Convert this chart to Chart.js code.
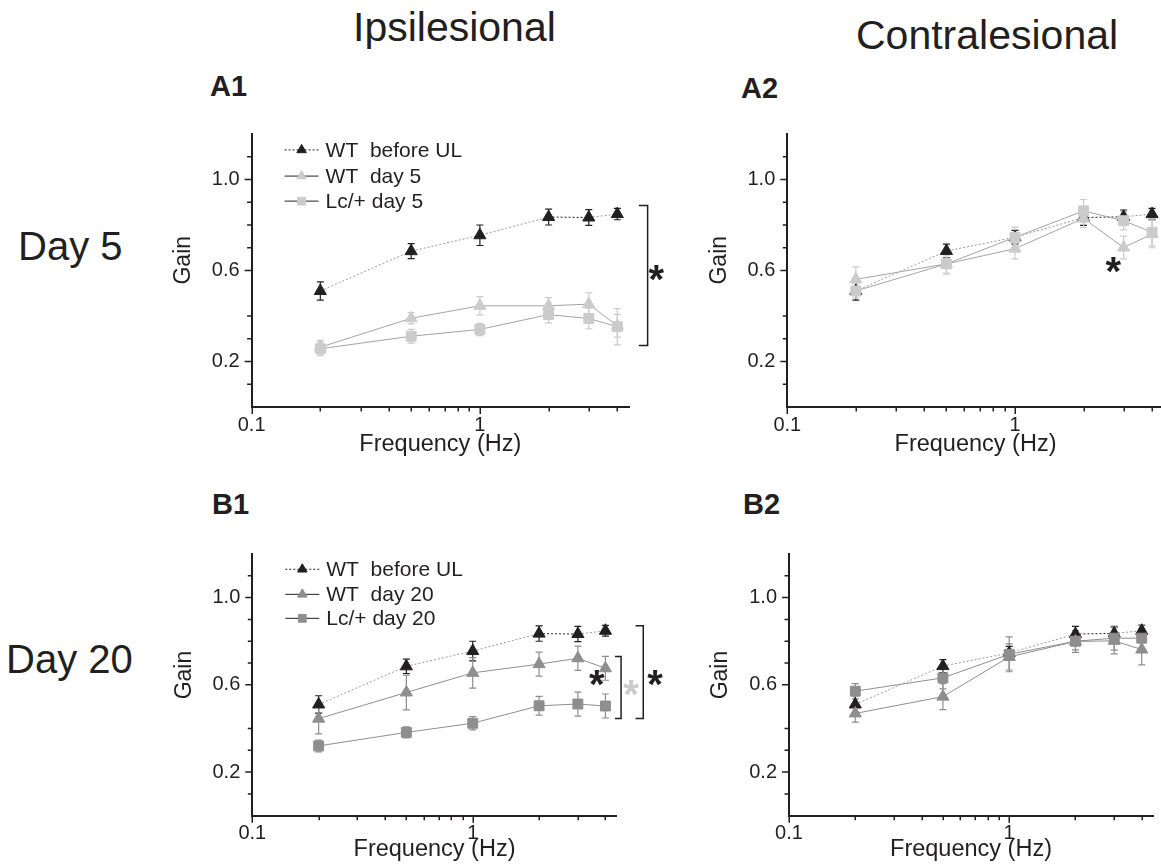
<!DOCTYPE html>
<html>
<head>
<meta charset="utf-8">
<script src="https://cdn.jsdelivr.net/npm/chart.js@4.4.1/dist/chart.umd.min.js"></script>
<style>
html, body { margin: 0; padding: 0; background: #fff; overflow: hidden; width: 1161px; height: 868px; }
body { position: relative; font-family: 'Liberation Sans', Arial, sans-serif; color: #231f20; }
.t { position: absolute; white-space: pre; line-height: 1; }
.b { font-weight: bold; font-size: 29px; }
.panel { position: absolute; }
</style>
</head>
<body>
<div class="t" style="left:353px;top:7px;font-size:41px">Ipsilesional</div>
<div class="t" style="left:856px;top:15px;font-size:41px">Contralesional</div>
<div class="t b" style="left:210px;top:72px">A1</div>
<div class="t b" style="left:741px;top:74px">A2</div>
<div class="t b" style="left:212px;top:490px">B1</div>
<div class="t b" style="left:743px;top:490px">B2</div>
<div class="t" style="left:18px;top:226px;font-size:40px">Day 5</div>
<div class="t" style="left:6px;top:639px;font-size:40px">Day 20</div>

<div class="panel" style="left:150px;top:110px;width:530px;height:360px"><canvas id="cA1"></canvas></div>
<div class="panel" style="left:690px;top:110px;width:500px;height:360px"><canvas id="cA2"></canvas></div>
<div class="panel" style="left:150px;top:530px;width:530px;height:338px"><canvas id="cB1"></canvas></div>
<div class="panel" style="left:690px;top:530px;width:471px;height:338px"><canvas id="cB2"></canvas></div>

<script>
const FONT = "'Liberation Sans', Arial, sans-serif";
const BLACK = '#231f20';
const LIGHT = '#cbcbcb';
const MID = '#8e8e8e';
const LINE_LIGHT = '#a4a4a4';
const DOT = '#9a9a9a';

// frequencies (Hz)
const freqs = [0.2, 0.5, 1, 2, 3, 4];

// ipsilesional
const wtBeforeIpsi = [0.51, 0.685, 0.755, 0.835, 0.833, 0.848];
const wtBeforeIpsiErr = [0.04, 0.033, 0.045, 0.035, 0.035, 0.025];
const wtDay5Ipsi = [0.263, 0.39, 0.445, 0.445, 0.452, 0.357];
const wtDay5IpsiErr = [0.03, 0.025, 0.04, 0.036, 0.05, 0.05];
const lcDay5Ipsi = [0.256, 0.311, 0.341, 0.406, 0.389, 0.353];
const lcDay5IpsiErr = [0.03, 0.03, 0.027, 0.036, 0.045, 0.08];
const wtDay20Ipsi = [0.445, 0.565, 0.655, 0.695, 0.722, 0.676];
const wtDay20IpsiErr = [0.07, 0.08, 0.07, 0.055, 0.056, 0.055];
const lcDay20Ipsi = [0.32, 0.382, 0.424, 0.504, 0.512, 0.503];
const lcDay20IpsiErr = [0.027, 0.025, 0.03, 0.043, 0.055, 0.055];

// contralesional
const wtBeforeContra = [0.51, 0.686, 0.746, 0.833, 0.836, 0.848];
const wtBeforeContraErr = [0.04, 0.03, 0.03, 0.035, 0.03, 0.025];
const wtDay5Contra = [0.561, 0.629, 0.696, 0.829, 0.701, 0.76];
const wtDay5ContraErr = [0.055, 0.04, 0.045, 0.04, 0.05, 0.06];
const lcDay5Contra = [0.51, 0.629, 0.746, 0.862, 0.819, 0.768];
const lcDay5ContraErr = [0.03, 0.045, 0.045, 0.05, 0.04, 0.06];
const wtDay20Contra = [0.469, 0.546, 0.728, 0.799, 0.802, 0.762];
const wtDay20ContraErr = [0.04, 0.06, 0.06, 0.05, 0.06, 0.07];
const lcDay20Contra = [0.571, 0.632, 0.74, 0.8, 0.814, 0.814];
const lcDay20ContraErr = [0.035, 0.05, 0.08, 0.04, 0.055, 0.06];

// axes
const xMinorTicks = [0.1, 0.2, 0.3, 0.4, 0.5, 0.6, 0.7, 0.8, 0.9, 1, 2, 3, 4];
const xLabelValues = [0.1, 1];
const xLabelText = ['0.1', '1'];
const yMinorTicks = [0.1, 0.2, 0.3, 0.4, 0.6, 0.7, 0.8, 0.9, 1.0, 1.1];
const yLabelValues = [0.2, 0.6, 1.0];
const yLabelText = ['0.2', '0.6', '1.0'];
const legendRows = [1.13, 1.015, 0.905];

Chart.defaults.font.family = FONT;
Chart.defaults.color = BLACK;

function series(label, vals, errs, style, color, lineColor, order, dotted) {
  const ds = {
    label: label,
    data: freqs.map((f, i) => ({ x: f, y: vals[i] })),
    err: errs,
    errColor: color,
    borderColor: lineColor,
    borderWidth: 1,
    pointStyle: style,
    pointRadius: style === 'triangle' ? 7 : 7,
    pointBackgroundColor: color,
    pointBorderColor: color,
    pointBorderWidth: 1,
    order: order
  };
  if (dotted) {
    ds.borderDash = [2, 2];
    ds.segment = { borderColor: c => c.p0DataIndex === 3 ? BLACK : DOT };
  }
  return ds;
}

function drawStar(ctx, x, y, color) {
  ctx.save();
  ctx.font = 'bold 40px ' + FONT;
  ctx.fillStyle = color;
  ctx.textAlign = 'center';
  ctx.textBaseline = 'alphabetic';
  const m = ctx.measureText('*');
  ctx.fillText('*', x, y + (m.actualBoundingBoxAscent - m.actualBoundingBoxDescent) / 2);
  ctx.restore();
}

const decor = {
  id: 'decor',
  beforeDatasetsDraw(chart) {
    const ctx = chart.ctx, xs = chart.scales.x, ys = chart.scales.y;
    chart.data.datasets.forEach(ds => {
      ctx.save();
      ctx.strokeStyle = ds.errColor;
      ctx.lineWidth = 1.2;
      ds.data.forEach((p, i) => {
        const px = xs.getPixelForValue(p.x);
        const yT = ys.getPixelForValue(p.y + ds.err[i]);
        const yB = ys.getPixelForValue(p.y - ds.err[i]);
        ctx.beginPath();
        ctx.moveTo(px, yT); ctx.lineTo(px, yB);
        ctx.moveTo(px - 3.5, yT); ctx.lineTo(px + 3.5, yT);
        ctx.moveTo(px - 3.5, yB); ctx.lineTo(px + 3.5, yB);
        ctx.stroke();
      });
      ctx.restore();
    });
  },
  afterDraw(chart, args, o) {
    const ctx = chart.ctx, xs = chart.scales.x, ys = chart.scales.y, a = chart.chartArea;
    ctx.save();
    ctx.strokeStyle = BLACK;
    ctx.lineWidth = 1.5;
    ctx.beginPath();
    xMinorTicks.forEach(v => {
      const px = Math.round(xs.getPixelForValue(v)) + 0.25;
      const len = xLabelValues.includes(v) ? 6 : 3.5;
      ctx.moveTo(px, a.bottom); ctx.lineTo(px, a.bottom + 1 + len);
    });
    yMinorTicks.forEach(v => {
      const py = ys.getPixelForValue(v);
      const len = yLabelValues.includes(v) ? 6 : 3.5;
      ctx.moveTo(a.left, py); ctx.lineTo(a.left - 1 - len, py);
    });
    ctx.stroke();

    // y axis title
    ctx.save();
    ctx.translate(a.left - 68, ys.getPixelForValue(0.645));
    ctx.rotate(-Math.PI / 2);
    ctx.font = '23px ' + FONT;
    ctx.fillStyle = BLACK;
    ctx.textAlign = 'center';
    ctx.textBaseline = 'middle';
    ctx.fillText('Gain', 0, 0);
    ctx.restore();

    // legend
    (o.legend || []).forEach((it, i) => {
      const y = ys.getPixelForValue(legendRows[i]);
      ctx.save();
      ctx.strokeStyle = BLACK;
      ctx.lineWidth = 1;
      if (it.dotted) ctx.setLineDash([2, 2]);
      ctx.beginPath();
      ctx.moveTo(a.left + 33, y); ctx.lineTo(a.left + 67, y);
      ctx.stroke();
      ctx.setLineDash([]);
      ctx.fillStyle = it.color;
      ctx.strokeStyle = it.color;
      Chart.helpers.drawPoint(ctx, { pointStyle: it.style, radius: 5.5, borderWidth: 1, rotation: 0 }, a.left + 50, y);
      ctx.font = '21px ' + FONT;
      ctx.fillStyle = BLACK;
      ctx.textBaseline = 'middle';
      ctx.textAlign = 'left';
      ctx.fillText(it.text, a.left + 74, y + 1);
      ctx.restore();
    });

    // significance brackets
    ctx.lineWidth = 1.5;
    ctx.strokeStyle = BLACK;
    (o.brackets || []).forEach(b => {
      const x = xs.getPixelForValue(b.x), xt = xs.getPixelForValue(b.tick);
      const y0 = ys.getPixelForValue(b.top), y1 = ys.getPixelForValue(b.bottom);
      ctx.beginPath();
      ctx.moveTo(xt, y0); ctx.lineTo(x, y0); ctx.lineTo(x, y1); ctx.lineTo(xt, y1);
      ctx.stroke();
    });
    (o.stars || []).forEach(s => drawStar(ctx, xs.getPixelForValue(s.x), ys.getPixelForValue(s.y), s.color));
    ctx.restore();
  }
};

function makePanel(id, pad, yW, xH, titlePad, datasets, extra) {
  return new Chart(document.getElementById(id), {
    type: 'line',
    data: { datasets: datasets },
    options: {
      responsive: true,
      maintainAspectRatio: false,
      animation: false,
      layout: { padding: pad },
      plugins: { legend: { display: false }, tooltip: { enabled: false }, decor: extra },
      scales: {
        x: {
          type: 'logarithmic', min: 0.1, max: 4.5,
          afterFit: s => { s.height = xH; },
          afterBuildTicks: s => { s.ticks = xLabelValues.map(v => ({ value: v })); },
          grid: { display: false, drawTicks: false },
          border: { display: true, color: BLACK, width: 2 },
          ticks: {
            autoSkip: false, maxRotation: 0, padding: 6, font: { size: 20 }, color: BLACK,
            callback: v => { const i = xLabelValues.indexOf(v); return i >= 0 ? xLabelText[i] : ''; }
          },
          title: { display: true, text: 'Frequency (Hz)', font: { size: 23.5 }, color: BLACK, padding: { top: 0, bottom: titlePad } }
        },
        y: {
          type: 'linear', min: 0, max: 1.2,
          afterFit: s => { s.width = yW; },
          afterBuildTicks: s => { s.ticks = yLabelValues.map(v => ({ value: v })); },
          grid: { display: false, drawTicks: false },
          border: { display: true, color: BLACK, width: 2 },
          ticks: {
            autoSkip: false, padding: 12, font: { size: 20 }, color: BLACK,
            callback: v => { const i = yLabelValues.indexOf(v); return i >= 0 ? yLabelText[i] : ''; }
          }
        }
      }
    },
    plugins: [decor]
  });
}

makePanel('cA1', { top: 20, right: 51, left: 0, bottom: 0 }, 101.6, 63, 10.9, [
  series('WT before UL', wtBeforeIpsi, wtBeforeIpsiErr, 'triangle', BLACK, DOT, 2, true),
  series('WT day 5', wtDay5Ipsi, wtDay5IpsiErr, 'triangle', LIGHT, LINE_LIGHT, 1, false),
  series('Lc/+ day 5', lcDay5Ipsi, lcDay5IpsiErr, 'rect', LIGHT, LINE_LIGHT, 0, false)
], {
  legend: [
    { text: 'WT  before UL', style: 'triangle', color: BLACK, dotted: true },
    { text: 'WT  day 5', style: 'triangle', color: LIGHT },
    { text: 'Lc/+ day 5', style: 'rect', color: LIGHT }
  ],
  brackets: [{ x: 5.43, tick: 4.97, top: 0.886, bottom: 0.27 }],
  stars: [{ x: 5.92, y: 0.587, color: BLACK }]
});

makePanel('cA2', { top: 20, right: 26.3, left: 0, bottom: 0 }, 97.3, 63, 10.9, [
  series('WT before UL', wtBeforeContra, wtBeforeContraErr, 'triangle', BLACK, DOT, 2, true),
  series('WT day 5', wtDay5Contra, wtDay5ContraErr, 'triangle', LIGHT, LINE_LIGHT, 1, false),
  series('Lc/+ day 5', lcDay5Contra, lcDay5ContraErr, 'rect', LIGHT, LINE_LIGHT, 0, false)
], {
  stars: [{ x: 2.70, y: 0.623, color: BLACK }]
});

makePanel('cB1', { top: 17.7, right: 63.3, left: 0, bottom: 0 }, 102.3, 52.3, 3.9, [
  series('WT before UL', wtBeforeIpsi, wtBeforeIpsiErr, 'triangle', BLACK, DOT, 2, true),
  series('WT day 20', wtDay20Ipsi, wtDay20IpsiErr, 'triangle', MID, MID, 1, false),
  series('Lc/+ day 20', lcDay20Ipsi, lcDay20IpsiErr, 'rect', MID, MID, 0, false)
], {
  legend: [
    { text: 'WT  before UL', style: 'triangle', color: BLACK, dotted: true },
    { text: 'WT  day 20', style: 'triangle', color: MID },
    { text: 'Lc/+ day 20', style: 'rect', color: MID }
  ],
  brackets: [
    { x: 4.71, tick: 4.42, top: 0.73, bottom: 0.4456 },
    { x: 5.94, tick: 5.48, top: 0.8715, bottom: 0.4456 }
  ],
  stars: [
    { x: 3.65, y: 0.633, color: BLACK },
    { x: 5.23, y: 0.584, color: LIGHT },
    { x: 6.71, y: 0.633, color: BLACK }
  ]
});

makePanel('cB2', { top: 17.7, right: 7.8, left: 0, bottom: 0 }, 99, 52.3, 3.9, [
  series('WT before UL', wtBeforeContra, wtBeforeContraErr, 'triangle', BLACK, DOT, 2, true),
  series('WT day 20', wtDay20Contra, wtDay20ContraErr, 'triangle', MID, MID, 1, false),
  series('Lc/+ day 20', lcDay20Contra, lcDay20ContraErr, 'rect', MID, MID, 0, false)
], {});
</script>
</body>
</html>
